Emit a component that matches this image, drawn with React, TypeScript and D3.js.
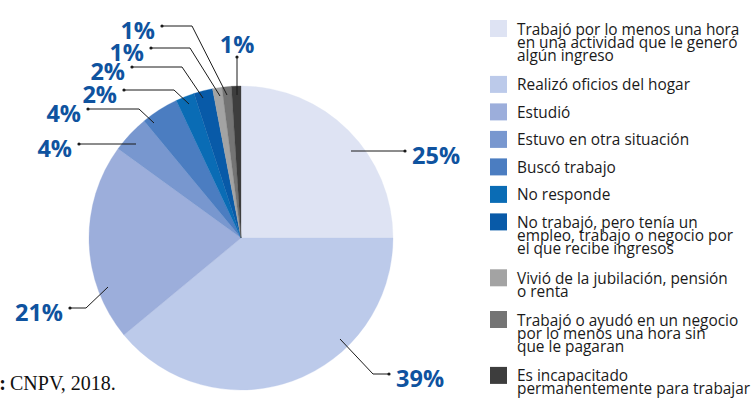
import React from 'react';
import * as d3 from 'd3';

// categorías (texto de la leyenda, ya partido en líneas)
const categories: string[][] = [
  ['Trabajó por lo menos una hora', 'en una actividad que le generó', 'algún ingreso'],
  ['Realizó oficios del hogar'],
  ['Estudió'],
  ['Estuvo en otra situación'],
  ['Buscó trabajo'],
  ['No responde'],
  ['No trabajó, pero tenía un', 'empleo, trabajo o negocio por', 'el que recibe ingresos'],
  ['Vivió de la jubilación, pensión', 'o renta'],
  ['Trabajó o ayudó en un negocio', 'por lo menos una hora sin', 'que le pagaran'],
  ['Es incapacitado', 'permanentemente para trabajar'],
];

// porcentajes
const shares = [25, 39, 21, 4, 4, 2, 2, 1, 1, 1];

const palette = [
  '#dee3f3', '#bccaea', '#9caedb', '#7897cf', '#4b7dc1',
  '#0a6cb5', '#085aa8', '#a3a3a3', '#747474', '#3d3d3d',
];

// posición de las etiquetas, relativa al centro del pastel
// anchor = punto dentro del sector, elbow = quiebre, dot = extremo con punto
const labelLayout: { anchor: number[]; elbow?: number[]; dot: number[]; side: string }[] = [
  { anchor: [110, -87], dot: [164, -87], side: 'right' },
  { anchor: [99, 101], elbow: [132, 136], dot: [148, 136], side: 'right' },
  { anchor: [-133, 49], elbow: [-155, 70], dot: [-171, 70], side: 'left' },
  { anchor: [-105, -94], dot: [-162, -94], side: 'left' },
  { anchor: [-87, -115], elbow: [-102, -129], dot: [-153, -129], side: 'left' },
  { anchor: [-52, -134], elbow: [-67, -148], dot: [-117, -148], side: 'left' },
  { anchor: [-38, -140], elbow: [-59, -171], dot: [-109, -171], side: 'left' },
  { anchor: [-21, -142], elbow: [-51, -190], dot: [-90, -190], side: 'left' },
  { anchor: [-14, -143], elbow: [-49, -212], dot: [-79, -212], side: 'left' },
  { anchor: [-4, -143], dot: [-4, -181], side: 'top' },
];

const W = 753;
const H = 401;
const cx = 241;
const cy = 238;
const R = 152;

const labelBlue = '#0f539f';

export default function App() {
  const pie = d3.pie<number>().sort(null).value((d) => d);
  const arcs = pie(shares);
  const arc = d3.arc<d3.PieArcDatum<number>>().innerRadius(0).outerRadius(R);

  // leyenda: alto de cada entrada según número de líneas
  const lineH = 13;
  let y0 = 20;
  const legendY = categories.map((lines) => {
    const y = y0;
    y0 += 27.5 + (lines.length - 1) * 14.2;
    return y;
  });

  return (
    <svg
      width={W}
      height={H}
      style={{ position: 'absolute', left: 0, top: 0, background: '#fff' }}
    >
      <g transform={`translate(${cx},${cy})`}>
        {arcs.map((a, i) => (
          <path key={i} d={arc(a) || ''} fill={palette[i]} stroke={palette[i]} strokeWidth={0.3} />
        ))}
        {arcs.map((a, i) => {
          const l = labelLayout[i];
          const pts = [l.anchor, ...(l.elbow ? [l.elbow] : []), l.dot];
          const line = d3.line()(pts as [number, number][]) || '';
          let tx = l.dot[0];
          let ty = l.dot[1] + 12.5;
          let anchor = 'start';
          if (l.side === 'right') {
            tx = l.dot[0] + 7;
          } else if (l.side === 'left') {
            tx = l.dot[0] - 7;
            anchor = 'end';
          } else {
            ty = l.dot[1] - 4;
            anchor = 'middle';
          }
          return (
            <g key={'l' + i}>
              <path d={line} fill="none" stroke="#1a1a1a" strokeWidth={1} />
              <circle cx={l.dot[0]} cy={l.dot[1]} r={1.6} fill="#1a1a1a" />
              <text
                x={tx}
                y={ty}
                textAnchor={anchor}
                fill={labelBlue}
                fontFamily="'Open Sans', sans-serif"
                fontWeight={700}
                fontSize={23.5}
              >
                {a.data}%
              </text>
            </g>
          );
        })}
      </g>

      <g fontFamily="'Open Sans', sans-serif" fontSize={15.4} fill="#1a1a1a">
        {categories.map((lines, i) => (
          <g key={i} transform={`translate(490,${legendY[i]})`}>
            <rect width={17} height={17} fill={palette[i]} />
            <text x={27} y={14.5}>
              {lines.map((t, j) => (
                <tspan key={j} x={27} dy={j === 0 ? 0 : lineH}>
                  {t}
                </tspan>
              ))}
            </text>
          </g>
        ))}
      </g>

      <g fontFamily="'Liberation Serif', serif" fontSize={20} fill="#111">
        <text x={6} y={390} textAnchor="end" fontWeight={700}>
          Fuente:
        </text>
        <text x={10} y={390}>
          CNPV, 2018.
        </text>
      </g>
    </svg>
  );
}
